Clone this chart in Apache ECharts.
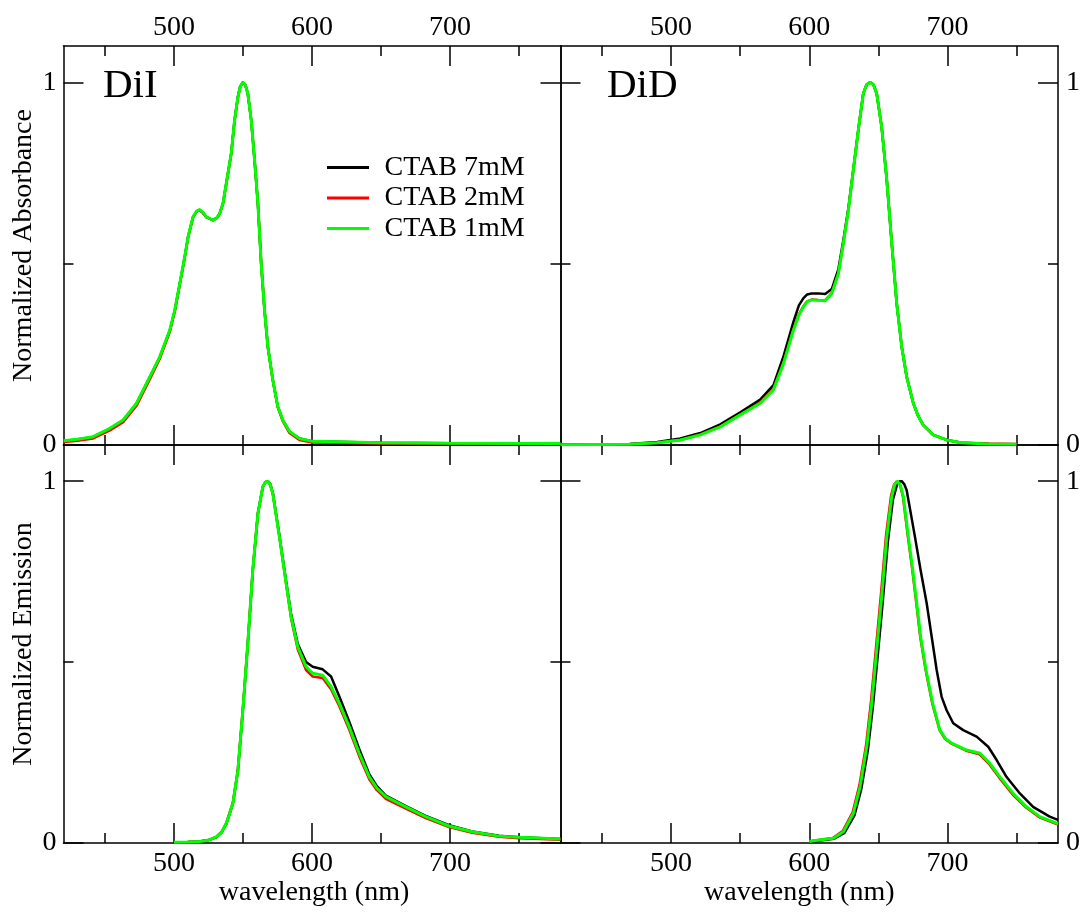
<!DOCTYPE html>
<html>
<head>
<meta charset="utf-8">
<script src="https://cdn.jsdelivr.net/npm/echarts@6/dist/echarts.min.js"></script>
<style>
html,body{margin:0;padding:0;background:#fff;}
#chart{width:1086px;height:912px;}
</style>
</head>
<body>
<div id="chart"></div>
<script>
// ---------------- data (wavelength nm, normalized value) ----------------
const seriesNames = ['CTAB 7mM', 'CTAB 2mM', 'CTAB 1mM'];
const panelTitles = ['DiI', 'DiD'];
const xName = 'wavelength (nm)';
const yNames = ['Normalized Absorbance', 'Normalized Emission'];
const xMajorTicks = [500, 600, 700];
const xMinorTicks = [450, 550, 650, 750];
const yMajorTicks = [0, 1];
const yMinorTicks = [0.5];

// DiI absorbance
const diiAbs1mM = [[420,0.012],[430,0.016],[441.5,0.023],[453.6,0.046],[463.2,0.069],[472.9,0.115],[482.5,0.188],[489.7,0.243],[497,0.317],[500.6,0.372],[504.2,0.445],[507.8,0.519],[510.2,0.574],[513.8,0.629],[516.5,0.645],[518.6,0.649],[521,0.641],[523.5,0.629],[528.3,0.620],[531,0.626],[533.1,0.638],[535.5,0.666],[537.9,0.721],[541.5,0.804],[543.9,0.895],[546.3,0.959],[548,0.988],[549.9,1.0],[551.7,0.993],[553.5,0.969],[556,0.895],[558.4,0.785],[560.8,0.666],[563.2,0.5],[565.6,0.372],[568,0.271],[571.6,0.179],[575.2,0.106],[578.8,0.069],[583.7,0.037],[590.9,0.018],[600.5,0.010],[650,0.006],[700,0.005],[780,0.004]];
const diiAbs2mM = [[420,0.008],[430,0.012],[441.5,0.018],[453.6,0.040],[463.2,0.063],[472.9,0.108],[482.5,0.181],[489.7,0.237],[497,0.312],[500.6,0.368],[504.2,0.442],[507.8,0.516],[510.2,0.572],[513.8,0.627],[516.5,0.644],[518.6,0.648],[521,0.640],[523.5,0.628],[528.3,0.619],[531,0.625],[533.1,0.637],[535.5,0.665],[537.9,0.720],[541.5,0.803],[543.9,0.894],[546.3,0.958],[548,0.988],[549.9,1.0],[551.7,0.993],[553.5,0.969],[556,0.895],[558.4,0.785],[560.8,0.666],[563.2,0.5],[565.6,0.372],[568,0.271],[571.6,0.179],[575.2,0.104],[578.8,0.066],[583.7,0.033],[590.9,0.014],[600.5,0.007],[650,0.004],[700,0.004],[780,0.003]];
const diiAbs7mM = [[420,0.011],[430,0.015],[441.5,0.022],[453.6,0.045],[463.2,0.068],[472.9,0.114],[482.5,0.187],[489.7,0.242],[497,0.316],[500.6,0.371],[504.2,0.444],[507.8,0.518],[510.2,0.573],[513.8,0.628],[516.5,0.644],[518.6,0.648],[521,0.640],[523.5,0.628],[528.3,0.620],[531,0.626],[533.1,0.638],[535.5,0.666],[537.9,0.721],[541.5,0.804],[543.9,0.895],[546.3,0.959],[548,0.988],[549.9,1.0],[551.7,0.993],[553.5,0.969],[556,0.895],[558.4,0.785],[560.8,0.666],[563.2,0.5],[565.6,0.372],[568,0.271],[571.6,0.179],[575.2,0.106],[578.8,0.069],[583.7,0.037],[590.9,0.018],[600.5,0.010],[650,0.006],[700,0.005],[780,0.004]];

// DiD absorbance
const didAbs1mM = [[420,0.001],[470,0.002],[490,0.006],[506.7,0.014],[521.2,0.028],[535.6,0.05],[550.1,0.083],[564.5,0.115],[574.1,0.152],[581.4,0.225],[588.6,0.317],[592.5,0.358],[595.8,0.381],[598.5,0.395],[601.8,0.4],[606.5,0.399],[611.5,0.398],[616.3,0.418],[621.1,0.473],[624.7,0.556],[628.3,0.647],[631.9,0.758],[635.5,0.868],[639.1,0.969],[641.5,0.993],[644,1.0],[646.5,0.993],[648.8,0.969],[652.4,0.877],[656.1,0.73],[659.7,0.556],[663.3,0.39],[666.9,0.271],[670.5,0.188],[675.3,0.115],[678.8,0.08],[682.5,0.055],[689.7,0.028],[699.4,0.014],[710,0.006],[730,0.003],[750,0.002]];
const didAbs2mM = [[420,0.001],[470,0.002],[490,0.006],[506.7,0.014],[521.2,0.029],[535.6,0.051],[550.1,0.084],[564.5,0.117],[574.1,0.155],[581.4,0.228],[588.6,0.320],[592.5,0.36],[595.8,0.383],[598.5,0.396],[601.8,0.401],[606.5,0.4],[611.5,0.399],[616.3,0.419],[621.1,0.474],[624.7,0.557],[628.3,0.648],[631.9,0.758],[635.5,0.868],[639.1,0.969],[641.5,0.993],[644,1.0],[646.5,0.993],[648.8,0.969],[652.4,0.877],[656.1,0.73],[659.7,0.556],[663.3,0.39],[666.9,0.271],[670.5,0.188],[675.3,0.115],[678.8,0.08],[682.5,0.055],[689.7,0.028],[699.4,0.014],[710,0.006],[730,0.004],[750,0.003]];
const didAbs7mM = [[420,0.001],[470,0.003],[490,0.008],[506.7,0.018],[521.2,0.033],[535.6,0.057],[550.1,0.09],[564.5,0.125],[574.1,0.165],[581.4,0.245],[588.6,0.34],[592.5,0.385],[595.8,0.405],[598.5,0.415],[601.8,0.418],[606.5,0.418],[611.5,0.416],[616.3,0.43],[621.1,0.485],[624.7,0.565],[628.3,0.652],[631.9,0.76],[635.5,0.869],[639.1,0.969],[641.5,0.993],[644,1.0],[646.5,0.993],[648.8,0.969],[652.4,0.877],[656.1,0.73],[659.7,0.556],[663.3,0.39],[666.9,0.271],[670.5,0.188],[675.3,0.115],[678.8,0.08],[682.5,0.055],[689.7,0.028],[699.4,0.014],[710,0.006],[730,0.003],[750,0.002]];

// DiI emission
const diiEm1mM = [[500,0.002],[510,0.003],[518.6,0.004],[525,0.008],[530.7,0.017],[534.5,0.03],[537.9,0.054],[542.7,0.11],[546.3,0.2],[549.9,0.367],[553.5,0.552],[557.1,0.754],[560.8,0.911],[564.4,0.985],[566.2,0.997],[568,1.0],[569.8,0.99],[571.6,0.966],[576.4,0.846],[581.3,0.717],[584.9,0.625],[589.7,0.542],[595.7,0.487],[600.5,0.469],[607.7,0.464],[613.8,0.432],[619.8,0.386],[627,0.321],[634.2,0.248],[641.5,0.183],[647,0.152],[653.5,0.128],[668,0.1],[682.4,0.073],[699.3,0.047],[716.1,0.031],[735.4,0.019],[750,0.016],[780,0.011]];
const diiEm2mM = [[500,0.002],[510,0.003],[518.6,0.004],[525,0.008],[530.7,0.017],[534.5,0.031],[537.9,0.055],[542.7,0.112],[546.3,0.203],[549.9,0.37],[553.5,0.555],[557.1,0.756],[560.8,0.912],[564.4,0.985],[566.2,0.997],[568,1.0],[569.8,0.99],[571.6,0.966],[576.4,0.846],[581.3,0.714],[584.9,0.62],[589.7,0.535],[595.7,0.478],[600.5,0.46],[607.7,0.456],[613.8,0.425],[619.8,0.378],[627,0.313],[634.2,0.24],[641.5,0.176],[647,0.146],[653.5,0.122],[668,0.095],[682.4,0.069],[699.3,0.044],[716.1,0.028],[735.4,0.017],[750,0.013],[780,0.009]];
const diiEm7mM = [[500,0.002],[510,0.003],[518.6,0.004],[525,0.008],[530.7,0.016],[534.5,0.029],[537.9,0.052],[542.7,0.108],[546.3,0.198],[549.9,0.365],[553.5,0.55],[557.1,0.752],[560.8,0.91],[564.4,0.985],[566.2,0.997],[568,1.0],[569.8,0.992],[571.6,0.968],[576.4,0.85],[581.3,0.722],[584.9,0.632],[589.7,0.55],[595.7,0.5],[600.5,0.487],[607.7,0.48],[613.8,0.46],[619.8,0.405],[627,0.335],[634.2,0.26],[641.5,0.19],[647,0.157],[653.5,0.131],[668,0.102],[682.4,0.075],[699.3,0.049],[716.1,0.032],[735.4,0.02],[750,0.016],[780,0.011]];

// DiD emission
const didEm1mM = [[600,0.004],[603,0.006],[617.5,0.013],[624.7,0.031],[631.9,0.082],[636.8,0.156],[641.6,0.266],[645.2,0.386],[648.8,0.533],[652.4,0.68],[656.1,0.846],[659.7,0.957],[661.7,0.99],[663.7,1.0],[665.9,0.99],[668.1,0.957],[671.7,0.846],[674.9,0.754],[677.8,0.662],[680.6,0.57],[684.5,0.478],[689.3,0.386],[694.6,0.312],[698.5,0.289],[703,0.276],[713.8,0.257],[723.5,0.248],[730.7,0.22],[737.9,0.183],[747.5,0.137],[757.2,0.1],[766.8,0.073],[778.9,0.055],[780,0.054]];
const didEm2mM = [[600,0.004],[603,0.006],[617,0.014],[624.2,0.033],[631.4,0.085],[636.3,0.16],[641.1,0.27],[644.7,0.392],[648.3,0.54],[651.9,0.688],[655.6,0.852],[659.2,0.96],[661.3,0.99],[663.4,1.0],[665.6,0.99],[667.8,0.957],[671.4,0.846],[674.6,0.754],[677.5,0.662],[680.3,0.57],[684.2,0.478],[689,0.386],[694.3,0.312],[698.2,0.288],[702.7,0.275],[713.5,0.255],[723.2,0.245],[730.4,0.217],[737.6,0.18],[747.2,0.134],[756.9,0.098],[766.5,0.071],[778.6,0.053],[780,0.052]];
const didEm7mM = [[600,0.003],[604,0.005],[618,0.012],[625.5,0.028],[632.7,0.076],[637.6,0.148],[642.4,0.256],[646,0.375],[649.6,0.52],[653.2,0.667],[656.9,0.833],[660.5,0.948],[663.5,0.99],[665.2,0.999],[666.9,1.0],[668.7,0.992],[670.5,0.975],[676.5,0.846],[680.6,0.754],[685,0.662],[688.6,0.57],[692.2,0.478],[695.8,0.404],[699.4,0.367],[704.2,0.331],[711.4,0.312],[721.1,0.294],[729.5,0.266],[735.5,0.23],[742.7,0.183],[752.4,0.137],[762,0.1],[774,0.073],[780,0.064]];

const panelData = [
  [diiAbs7mM, diiAbs2mM, diiAbs1mM],
  [didAbs7mM, didAbs2mM, didAbs1mM],
  [diiEm7mM, diiEm2mM, diiEm1mM],
  [didEm7mM, didEm2mM, didEm1mM]
];

// ---------------- styling / layout ----------------
const FONT = '"Liberation Serif","Times New Roman",Times,serif';
const FS = 28;
const colors = ['#000000', '#ff0000', '#00ff00'];
const lineWidths = [2.5, 2.5, 3];
const XMIN = 420, XMAX = 780, YMIN = 0, YMAX = 1.1;
const grids = [
  {left: 63.5, top: 46, width: 497, height: 399},
  {left: 560.5, top: 46, width: 497.5, height: 399},
  {left: 63.5, top: 445, width: 497, height: 398},
  {left: 560.5, top: 445, width: 497.5, height: 398}
];
const axLine = {color: '#000', width: 1.5};
const labelStyle = {fontFamily: FONT, fontSize: FS, color: '#000'};

const xAxes = [], yAxes = [], series = [];
for (let g = 0; g < 4; g++) {
  const isTop = g < 2, isLeft = g % 2 === 0;
  const xCommon = {gridIndex: g, type: 'value', min: XMIN, max: XMAX, splitLine: {show: false}};
  const yCommon = {gridIndex: g, type: 'value', min: YMIN, max: YMAX, splitLine: {show: false}};
  // bottom major
  xAxes.push(Object.assign({}, xCommon, {
    position: 'bottom',
    axisLine: {show: true, onZero: false, lineStyle: axLine},
    axisTick: {show: true, inside: true, length: 20, customValues: xMajorTicks, lineStyle: axLine},
    axisLabel: Object.assign({show: !isTop, customValues: xMajorTicks, margin: 7}, labelStyle),
    name: isTop ? '' : xName,
    nameLocation: 'middle',
    nameGap: 35,
    nameTextStyle: Object.assign({}, labelStyle, isLeft ? {padding: [0, 0, 0, 4]} : {padding: [0, 20, 0, 0]})
  }));
  // bottom minor
  xAxes.push(Object.assign({}, xCommon, {
    position: 'bottom',
    axisLine: {show: false, onZero: false},
    axisTick: {show: true, inside: true, length: 10, customValues: xMinorTicks, lineStyle: axLine},
    axisLabel: {show: false}
  }));
  // top major
  xAxes.push(Object.assign({}, xCommon, {
    position: 'top',
    axisLine: {show: true, onZero: false, lineStyle: axLine},
    axisTick: {show: true, inside: true, length: 20, customValues: xMajorTicks, lineStyle: axLine},
    axisLabel: Object.assign({show: isTop, customValues: xMajorTicks, margin: 4}, labelStyle)
  }));
  // top minor
  xAxes.push(Object.assign({}, xCommon, {
    position: 'top',
    axisLine: {show: false, onZero: false},
    axisTick: {show: true, inside: true, length: 10, customValues: xMinorTicks, lineStyle: axLine},
    axisLabel: {show: false}
  }));
  // left major
  yAxes.push(Object.assign({}, yCommon, {
    position: 'left',
    axisLine: {show: true, onZero: false, lineStyle: axLine},
    axisTick: {show: true, inside: true, length: 20, customValues: yMajorTicks, lineStyle: axLine},
    axisLabel: Object.assign({show: isLeft, customValues: yMajorTicks, margin: 7}, labelStyle),
    name: isLeft ? yNames[isTop ? 0 : 1] : '',
    nameLocation: 'middle',
    nameGap: 26,
    nameTextStyle: labelStyle
  }));
  // left minor
  yAxes.push(Object.assign({}, yCommon, {
    position: 'left',
    axisLine: {show: false, onZero: false},
    axisTick: {show: true, inside: true, length: 10, customValues: yMinorTicks, lineStyle: axLine},
    axisLabel: {show: false}
  }));
  // right major
  yAxes.push(Object.assign({}, yCommon, {
    position: 'right',
    axisLine: {show: true, onZero: false, lineStyle: axLine},
    axisTick: {show: true, inside: true, length: 20, customValues: yMajorTicks, lineStyle: axLine},
    axisLabel: Object.assign({show: !isLeft, customValues: yMajorTicks, margin: 8}, labelStyle)
  }));
  // right minor
  yAxes.push(Object.assign({}, yCommon, {
    position: 'right',
    axisLine: {show: false, onZero: false},
    axisTick: {show: true, inside: true, length: 10, customValues: yMinorTicks, lineStyle: axLine},
    axisLabel: {show: false}
  }));

  for (let s = 0; s < 3; s++) {
    series.push({
      name: seriesNames[s],
      type: 'line',
      xAxisIndex: 4 * g,
      yAxisIndex: 4 * g,
      data: panelData[g][s],
      symbol: 'none',
      showSymbol: false,
      smooth: false,
      clip: true,
      lineStyle: {color: colors[s], width: lineWidths[s]},
      itemStyle: {color: colors[s]},
      z: 2 + s
    });
  }
}

const chart = echarts.init(document.getElementById('chart'), null, {renderer: 'canvas'});
chart.setOption({
  animation: false,
  backgroundColor: '#ffffff',
  color: colors,
  grid: grids.map(g => Object.assign({containLabel: false, outerBoundsMode: 'none'}, g)),
  xAxis: xAxes,
  yAxis: yAxes,
  legend: {
    show: true,
    orient: 'vertical',
    left: 322,
    top: 148.5,
    data: seriesNames,
    icon: 'rect',
    itemWidth: 42,
    itemHeight: 3,
    itemGap: 2.5,
    selectedMode: false,
    textStyle: {fontFamily: FONT, fontSize: FS, color: '#000', lineHeight: 27, padding: [0, 0, 0, 10.5]}
  },
  graphic: [
    {type: 'text', left: 103, top: 66, style: {text: panelTitles[0], font: '41px ' + FONT, fill: '#000'}},
    {type: 'text', left: 607, top: 66, style: {text: panelTitles[1], font: '41px ' + FONT, fill: '#000'}}
  ],
  series: series
});
</script>
</body>
</html>
